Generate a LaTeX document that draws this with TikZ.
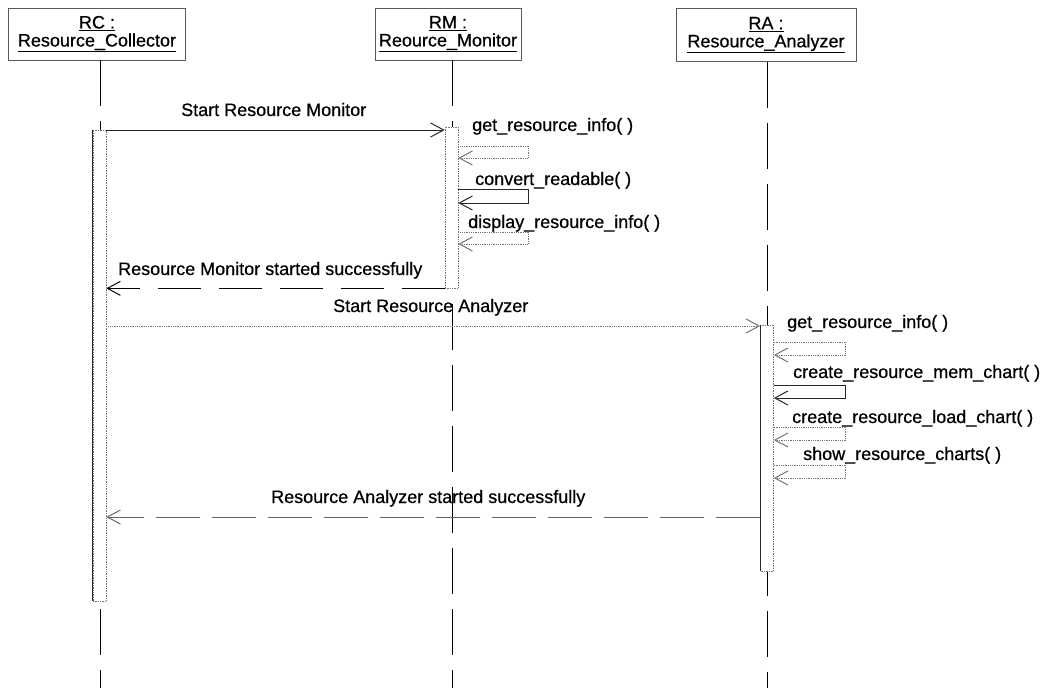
\documentclass[tikz,border=0pt]{standalone}
\usepackage{fontspec}
\setmainfont{Liberation Sans}[FakeBold=0.6]
\usetikzlibrary{arrows.meta}
\begin{document}
\begin{tikzpicture}[x=1pt,y=-1pt,
  every node/.style={font=\fontsize{18}{18}\selectfont},
  objbox/.style={draw=black!65, line width=0.7pt, fill=white, minimum height=52pt, align=center, inner sep=2pt},
  lifeline/.style={line width=0.9pt, dash pattern=on 46pt off 15pt},
  actbar/.style={draw=black!55, densely dotted, line width=0.7pt, fill=white, minimum width=13pt, inner sep=0pt},
  baredge/.style={line width=1.1pt, black!85},
  msglabel/.style={anchor=base west, inner sep=0pt},
  opentip/.style={-{Straight Barb[length=13pt,width=14pt,line width=1pt]}},
  callmsg/.style={opentip, line width=0.8pt, black!85},
  faintmsg/.style={opentip, line width=0.8pt, black!55, densely dotted},
  retmsg/.style={opentip, line width=0.9pt, dash pattern=on 43pt off 18pt},
  faintret/.style={opentip, line width=0.8pt, black!60, dash pattern=on 44pt off 12pt},
]
\useasboundingbox (0,0) rectangle (1053,688);

% lifeline ends at the bottom of the page
\coordinate (rcfoot) at (100,688);
\coordinate (rmfoot) at (452,688);
\coordinate (rafoot) at (767,688);

% object boxes
\node[objbox, minimum width=177pt] (rc) at (97,34) {\underline{RC :}\\\underline{Resource\_Collector}};
\node[objbox, minimum width=146pt] (rm) at (448,34) {\underline{RM :}\\\underline{Reource\_Monitor}};
\node[objbox, minimum width=180pt, minimum height=53pt] (ra) at (766,35) {\underline{RA :}\\\underline{Resource\_Analyzer}};

% lifelines
\draw[lifeline] (rc.south -| rcfoot) -- (rcfoot);
\draw[lifeline] (rm.south -| rmfoot) -- (rmfoot);
\draw[lifeline] (ra.south -| rafoot) -- (rafoot);

% activation bars
\node[actbar, minimum height=471pt] (rcbar) at (99.5,365.5) {};
\node[actbar, minimum height=161pt] (rmbar) at (451.5,207.5) {};
\node[actbar, minimum height=246pt] (rabar) at (767,448) {};
\draw[baredge] (rcbar.north west) -- (rcbar.south west);
\draw[baredge] (rabar.north west) -- (rabar.south west);

% RC -> RM
\draw[callmsg] (rcbar.east |- 0,130) -- (rmbar.west |- 0,130);
\node[msglabel] (m1) at (181,116) {Start Resource Monitor};

% RM self calls
\node[msglabel] (s1) at (472,131) {get\_resource\_info( )};
\draw[faintmsg] (rmbar.east |- 0,146) -- ++(70,0) -- ++(0,12) -- (rmbar.east |- 0,158);
\node[msglabel] (s2) at (475,185) {convert\_readable( )};
\draw[callmsg] (rmbar.east |- 0,189) -- ++(70,0) -- ++(0,14) -- (rmbar.east |- 0,203);
\node[msglabel] (s3) at (468,228) {display\_resource\_info( )};
\draw[faintmsg] (rmbar.east |- 0,232) -- ++(70,0) -- ++(0,12) -- (rmbar.east |- 0,244);

% RM -> RC return
\node[msglabel] (r1) at (118,275) {Resource Monitor started successfully};
\draw[retmsg] (rmbar.south west) -- (rcbar.east |- rmbar.south west);

% RC -> RA
\node[msglabel] (m2) at (333,312) {Start Resource Analyzer};
\draw[faintmsg] (rcbar.east |- 0,326) -- (rabar.west |- 0,326);

% RA self calls
\node[msglabel] (t1) at (787,328) {get\_resource\_info( )};
\draw[faintmsg] (rabar.east |- 0,342) -- ++(72,0) -- ++(0,13) -- (rabar.east |- 0,355);
\node[msglabel] (t2) at (793,378) {create\_resource\_mem\_chart( )};
\draw[callmsg] (rabar.east |- 0,385) -- ++(72,0) -- ++(0,13) -- (rabar.east |- 0,398);
\node[msglabel] (t3) at (792,423) {create\_resource\_load\_chart( )};
\draw[faintmsg] (rabar.east |- 0,427) -- ++(72,0) -- ++(0,13) -- (rabar.east |- 0,440);
\node[msglabel] (t4) at (803,460) {show\_resource\_charts( )};
\draw[faintmsg] (rabar.east |- 0,465) -- ++(72,0) -- ++(0,13) -- (rabar.east |- 0,478);

% RA -> RC return
\node[msglabel] (r2) at (271,503) {Resource Analyzer started successfully};
\draw[faintret] (rabar.west |- 0,517) -- (rcbar.east |- 0,517);
\end{tikzpicture}
\end{document}
